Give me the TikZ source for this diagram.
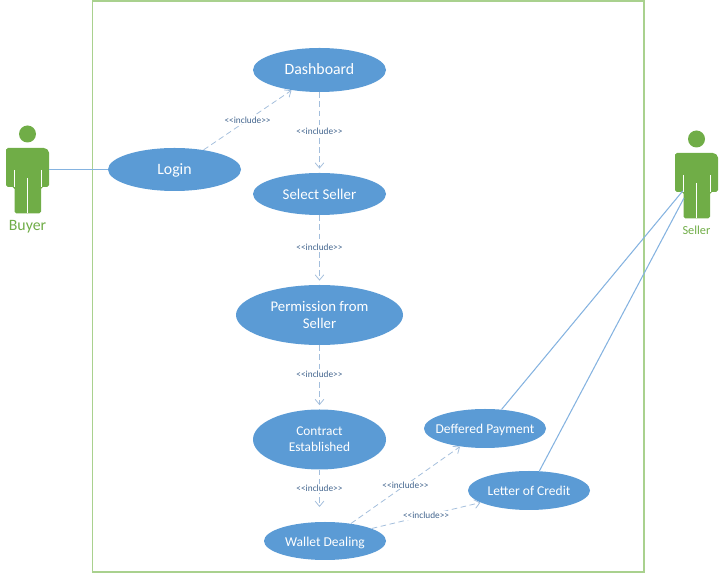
\documentclass[tikz,border=0pt]{standalone}
\usepackage{fontspec}
\setmainfont{Carlito}
\usetikzlibrary{shapes.geometric,arrows.meta}
\definecolor{framegreen}{HTML}{A9D18E}
\definecolor{actorgreen}{HTML}{70AD47}
\definecolor{caseblue}{HTML}{5B9BD5}
\definecolor{linkblue}{HTML}{85B3E0}
\definecolor{dashblue}{HTML}{A3BEDC}
\definecolor{labelblue}{HTML}{44668F}
\tikzset{
  usecase/.style 2 args={ellipse,fill=caseblue,text=white,inner sep=-6pt,align=center,
    minimum width=#1*0.02cm,minimum height=#2*0.02cm},
  casesize/.style 2 args={font=\fontsize{#1}{#2}\selectfont},
  oneline/.style={text height=6pt,text depth=0.3pt},
  include/.style={draw=dashblue,dashed,dash pattern=on 3.2pt off 2pt,line width=0.45pt,-{Straight Barb[length=3pt,width=5pt]}},
  gapped/.style={shorten >=0.08cm},
  includetext/.style={fill=white,text=labelblue,inner sep=0.6pt,font=\fontsize{5.3}{6}\selectfont},
  assoc/.style={draw=linkblue,line width=0.6pt},
  actortext/.style={text=actorgreen,inner sep=0pt}
}
\newcommand{\inctext}{<{}<include>{}>}
% one figure: head, then body with the two arm slits and the slit between the legs
\newcommand{\actorfig}[2]{
  \fill[actorgreen](#1,#2-14)circle[radius=8.5];
  \fill[actorgreen,rounded corners=1pt](#1-21.5,#2)--(#1-18,#2)--(#1+18,#2)--(#1+21.5,#2+3)--(#1+21.5,#2+39)
    --(#1+13.5,#2+39)--(#1+13.5,#2+65.5)--(#1-13,#2+65.5)--(#1-13,#2+39)--(#1-21.5,#2+39)--(#1-21.5,#2+3)--cycle;
  \draw[white,line width=0.45pt](#1-13,#2+22)--(#1-13,#2+39)(#1+13.5,#2+22)--(#1+13.5,#2+39)(#1,#2+30)--(#1,#2+65.5);
}
\begin{document}
\begin{tikzpicture}[x=0.02cm,y=-0.02cm]
\useasboundingbox(0,0)rectangle(720,573);
\draw[framegreen,line width=0.7pt](92.5,1)rectangle(644,572);
\actorfig{27.5}{148}
\actorfig{696.5}{153}
\coordinate(buyerhand)at(49,169.5);
\coordinate(sellerhip)at(682.7,191);
\coordinate(sellerleg)at(684,198);
\coordinate(walletgap)at(319.5,507);
\node[actortext,font=\fontsize{9}{10}\selectfont](buyer)at(27.5,227){Buyer};
\node[actortext,font=\fontsize{7}{8}\selectfont](seller)at(696.5,230.5){Seller};
\node[usecase={133}{44},casesize={9}{11},oneline](dash)at(319.5,70){Dashboard};
\node[usecase={133}{43},casesize={9}{11},oneline](login)at(174.5,169.5){Login};
\node[usecase={133}{42},casesize={8.5}{11},oneline](select)at(319.5,194){Select Seller};
\node[usecase={167}{60},casesize={8.4}{10.2}](perm)at(319.5,315){Permission from\\Seller};
\node[usecase={133}{60},casesize={7.6}{9.1}](contract)at(319.5,439.5){Contract\\Established};
\node[usecase={122}{38},casesize={7.7}{10},oneline](wallet)at(325,541){Wallet Dealing};
\node[usecase={122}{39},casesize={7.7}{10},oneline](deffered)at(485,428.5){Deffered Payment};
\node[usecase={122}{39},casesize={7.7}{10},oneline](letter)at(529,490.5){Letter of Credit};
\draw[assoc](buyerhand)--(login);
\draw[assoc](sellerhip)--(deffered.49);
\draw[assoc](sellerleg)--(letter.62);
\draw[include](login.34)--node[includetext]{\inctext}(dash.216);
\draw[include,gapped](dash)--node[includetext,pos=0.48]{\inctext}(select);
\draw[include,gapped](select)--node[includetext,pos=0.46]{\inctext}(perm);
\draw[include,gapped](perm)--node[includetext,pos=0.46]{\inctext}(contract);
\draw[include](contract)--node[includetext]{\inctext}(walletgap);
\draw[include](wallet.34)--node[includetext]{\inctext}(deffered.216);
\draw[include](wallet.15)--node[includetext]{\inctext}(letter.194);
\end{tikzpicture}
\end{document}
